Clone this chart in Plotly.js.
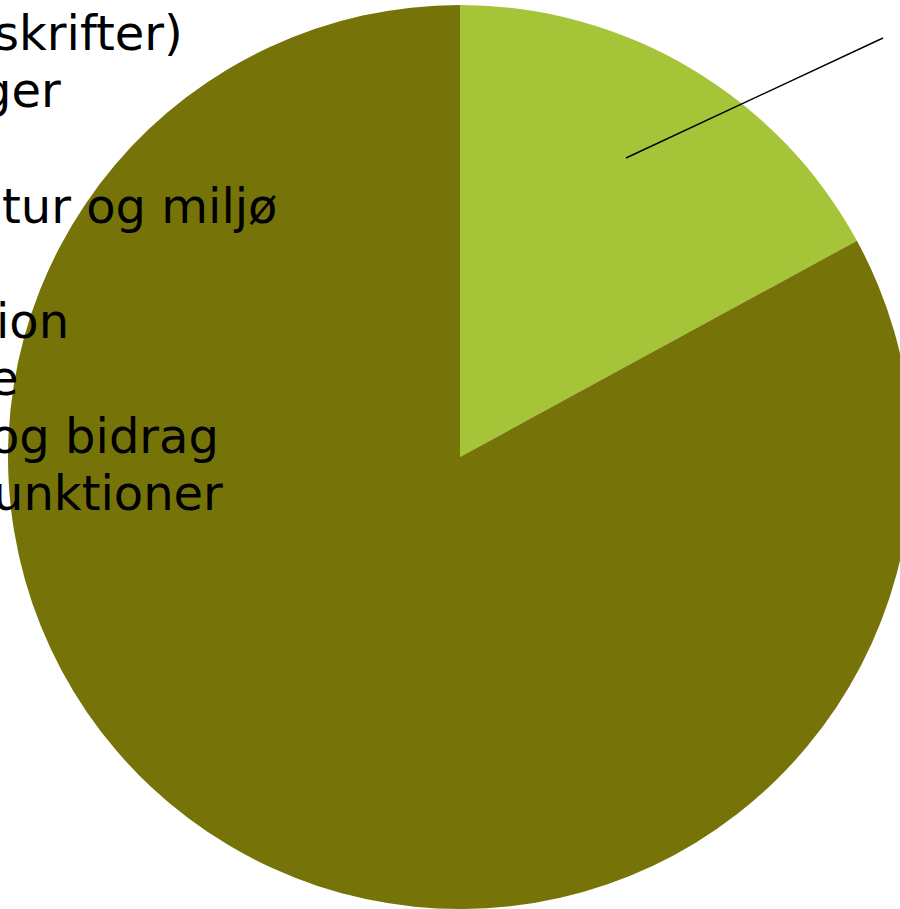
<!DOCTYPE html>
<html>
<head>
<meta charset="utf-8">
<script src="https://cdn.plot.ly/plotly-3.0.1.min.js"></script>
<style>
html, body { margin: 0; padding: 0; overflow: hidden; background: #ffffff; }
#chart { width: 920px; height: 909px; }
</style>
</head>
<body>
<div id="chart"></div>
<script>
// Pie slices (clockwise from 12 o'clock)
const sliceLabels = ["Andel", "Øvrige"];
const sliceValues = [17.06, 82.94];
const sliceColors = ["#A6C437", "#767408"];

// Visible (clipped) legend text fragments on the left edge
const legendFragments = ["skrifter)", "ger", "", "tur og miljø", "", "ion", "e", "og bidrag", "unktioner"];
const legendRightEdges = [182, 60, 0, 276, 0, 68, 18, 218, 222];

const W = 920, H = 909;
const lineStep = 57.5, firstBaseline = 50;

const annotations = [];
legendFragments.forEach((t, i) => {
  if (!t) return;
  const baseline = firstBaseline + i * lineStep;
  annotations.push({
    text: t,
    xref: "paper", yref: "paper",
    x: (legendRightEdges[i] + 3) / W,
    y: 1 - (baseline - 17) / H,
    xanchor: "right", yanchor: "middle",
    showarrow: false,
    font: { family: "DejaVu Sans, Verdana, sans-serif", size: 48, color: "#000000" }
  });
});

const data = [{
  type: "pie",
  labels: sliceLabels,
  values: sliceValues,
  marker: { colors: sliceColors, line: { width: 0 } },
  direction: "clockwise",
  rotation: 0,
  sort: false,
  textinfo: "none",
  hoverinfo: "none",
  showlegend: false,
  domain: { x: [0, 1], y: [0, 904 / 909] }
}];

const layout = {
  width: W, height: H,
  margin: { l: 0, r: 0, t: 0, b: 0, pad: 0 },
  paper_bgcolor: "#ffffff",
  plot_bgcolor: "#ffffff",
  showlegend: false,
  annotations: annotations,
  shapes: [{
    type: "line", xref: "paper", yref: "paper",
    x0: 626 / W, y0: 1 - 158 / H, x1: 883 / W, y1: 1 - 38 / H,
    line: { color: "#000000", width: 1.4 }
  }]
};

Plotly.newPlot("chart", data, layout, { displayModeBar: false, staticPlot: true });
</script>
</body>
</html>
